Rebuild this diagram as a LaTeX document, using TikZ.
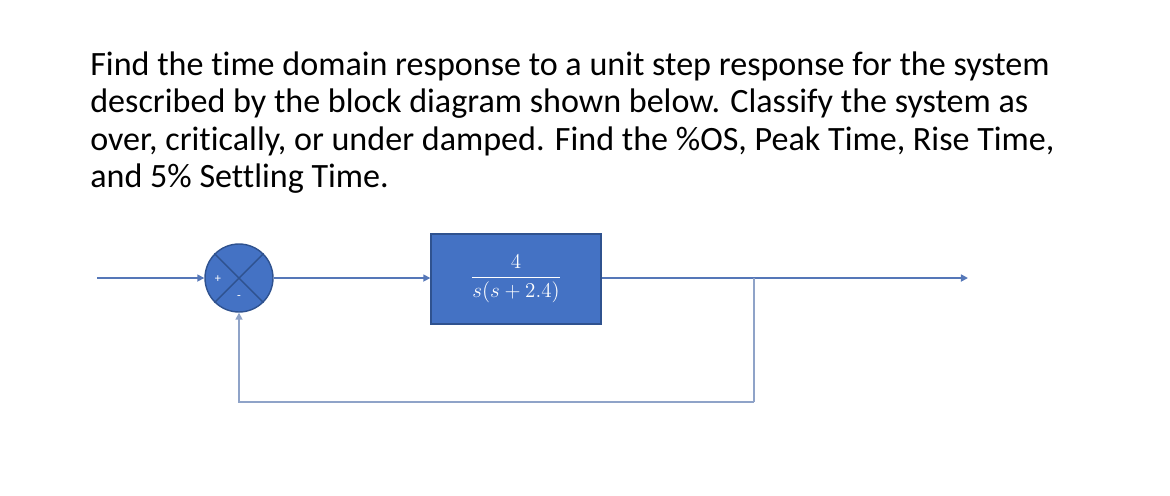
\documentclass[tikz,border=0pt]{standalone}
\usepackage{amsmath}
\usepackage{fontspec}
\setmainfont{Carlito}[Ligatures=NoCommon]
\usetikzlibrary{arrows.meta}
\definecolor{blockblue}{HTML}{4472C4}
\definecolor{edgeblue}{HTML}{2F528F}
\definecolor{wireblue}{HTML}{5577B8}
\definecolor{loopgray}{HTML}{8FA3C8}

\begin{document}
\begin{tikzpicture}[x=0.02cm,y=-0.02cm,
  block/.style={draw=edgeblue,fill=blockblue,line width=0.8pt,minimum width=3.4cm,minimum height=1.8cm,inner sep=0pt,text=white},
  sumnode/.style={circle,draw=edgeblue,fill=blockblue,line width=0.8pt,minimum size=1.36cm,inner sep=0pt},
  signlabel/.style={text=white,font=\fontsize{7}{7}\selectfont,inner sep=0pt},
  wire/.style={draw=wireblue,line width=0.9pt,-{Triangle[length=4pt,width=4pt]}},
  feedback/.style={draw=loopgray,line width=0.9pt}]
\useasboundingbox (0,0) rectangle (1170,495);
\node[anchor=north west,align=left,inner sep=0pt,font=\fontsize{19.4}{21.4}\selectfont] (task) at (90,51)
  {Find the time domain response to a unit step response for the system\\
   described by the block diagram shown below. Classify the system as\\
   over, critically, or under damped. Find the \%OS, Peak Time, Rise Time,\\
   and 5\% Settling Time.};
\node[sumnode] (sum) at (239,278) {};
\draw[edgeblue,line width=0.8pt] (sum.north west) -- (sum.south east);
\draw[edgeblue,line width=0.8pt] (sum.north east) -- (sum.south west);
\node[signlabel] (plus) at (218,279) {+};
\node[signlabel] (minus) at (239,298) {-};
\node[block,font=\fontsize{13}{15}\selectfont] (plant) at (516,279) {$\dfrac{4}{s(s+2.4)}$};
\coordinate (in) at (97,278);
\coordinate (out) at (968,278);
\coordinate (branch) at (754,278);
\coordinate (fbcorner) at (754,402);
\draw[wire] (in) -- (sum.west);
\draw[wire] (sum.east) -- (plant.west |- sum.east);
\draw[wire] (plant.east |- out) -- (out);
\draw[feedback] (branch) -- (fbcorner);
\draw[feedback,-{Triangle[length=4pt,width=4pt]}] (fbcorner) -| (sum.south);
\end{tikzpicture}
\end{document}
